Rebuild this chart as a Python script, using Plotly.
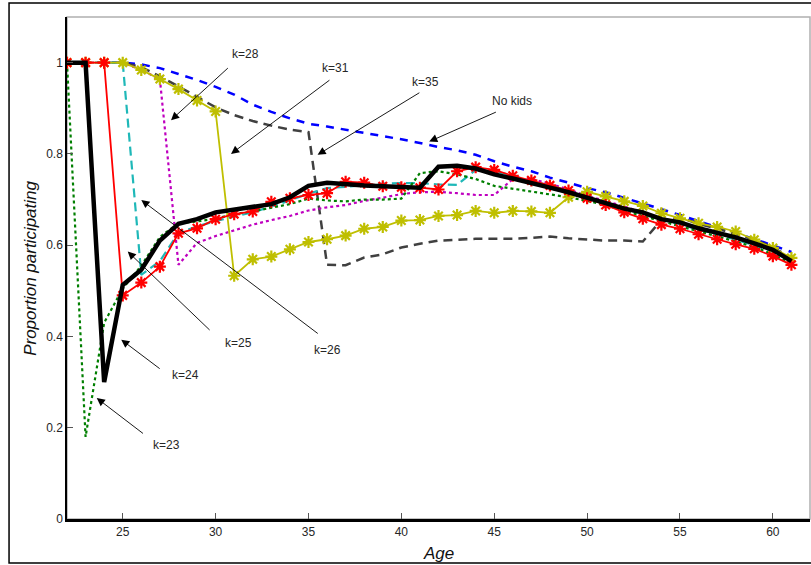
import plotly.graph_objects as go

ages = list(range(22, 62))

no_kids = [1.0, 1.0, 1.0, 1.0, 0.996, 0.988, 0.975, 0.962, 0.947, 0.930,
           0.908, 0.892, 0.878, 0.866, 0.860, 0.853, 0.847, 0.840, 0.832, 0.824,
           0.815, 0.808, 0.798, 0.784, 0.772, 0.762, 0.748, 0.737, 0.725, 0.716,
           0.704, 0.692, 0.679, 0.666, 0.653, 0.640, 0.627, 0.613, 0.600, 0.585]

k35 = [1.0, 1.0, 1.0, 1.0, 0.990, 0.970, 0.948, 0.925, 0.902, 0.885,
       0.872, 0.862, 0.853, 0.848, 0.557, 0.556, 0.573, 0.580, 0.595, 0.603,
       0.610, 0.612, 0.614, 0.614, 0.614, 0.616, 0.619, 0.615, 0.612, 0.610,
       0.610, 0.608, 0.655, 0.660, 0.647, 0.636, 0.625, 0.612, 0.595, 0.573]

k31 = [1.0, 1.0, 1.0, 1.0, 0.984, 0.964, 0.942, 0.917, 0.893, 0.533,
       0.569, 0.575, 0.591, 0.607, 0.613, 0.621, 0.636, 0.640, 0.654, 0.655,
       0.664, 0.666, 0.675, 0.671, 0.675, 0.674, 0.671, 0.705, 0.717, 0.707,
       0.696, 0.686, 0.670, 0.659, 0.648, 0.640, 0.630, 0.612, 0.594, 0.572]

k28 = [1.0, 1.0, 1.0, 1.0, 0.984, 0.964, 0.557, 0.605, 0.620, 0.633,
       0.645, 0.655, 0.664, 0.676, 0.683, 0.688, 0.697, 0.704, 0.712, 0.716,
       0.717, 0.714, 0.710, 0.710, 0.745, 0.745, 0.735, 0.722, 0.708, 0.697,
       0.684, 0.672, 0.660, 0.648, 0.637, 0.627, 0.615, 0.603, 0.588, 0.567]

k26 = [1.0, 1.0, 1.0, 1.0, 0.535, 0.565, 0.627, 0.641, 0.653, 0.662,
       0.672, 0.685, 0.698, 0.713, 0.725, 0.728, 0.732, 0.735, 0.736, 0.736,
       0.733, 0.732, 0.765, 0.762, 0.752, 0.740, 0.731, 0.720, 0.705, 0.694,
       0.680, 0.668, 0.656, 0.646, 0.634, 0.624, 0.612, 0.600, 0.585, 0.565]

k25 = [1.0, 1.0, 1.0, 0.490, 0.518, 0.553, 0.626, 0.637, 0.657, 0.668,
       0.674, 0.695, 0.703, 0.710, 0.714, 0.739, 0.737, 0.729, 0.727, 0.726,
       0.722, 0.762, 0.771, 0.765, 0.752, 0.742, 0.731, 0.720, 0.703, 0.688,
       0.672, 0.658, 0.645, 0.636, 0.624, 0.613, 0.602, 0.592, 0.576, 0.557]

k24 = [1.0, 1.0, 0.300, 0.513, 0.546, 0.610, 0.647, 0.657, 0.672, 0.678,
       0.682, 0.690, 0.705, 0.730, 0.737, 0.733, 0.731, 0.729, 0.728, 0.726,
       0.772, 0.774, 0.768, 0.755, 0.746, 0.735, 0.726, 0.716, 0.703, 0.692,
       0.680, 0.672, 0.657, 0.650, 0.637, 0.627, 0.617, 0.604, 0.590, 0.565]

k23 = [1.0, 0.180, 0.430, 0.505, 0.555, 0.618, 0.648, 0.652, 0.658, 0.668,
       0.674, 0.682, 0.690, 0.702, 0.698, 0.696, 0.700, 0.700, 0.702, 0.758,
       0.762, 0.755, 0.745, 0.730, 0.724, 0.717, 0.712, 0.705, 0.697, 0.688,
       0.675, 0.664, 0.652, 0.642, 0.630, 0.620, 0.608, 0.596, 0.580, 0.560]

x_ticks = [25, 30, 35, 40, 45, 50, 55, 60]
y_ticks = [0, 0.2, 0.4, 0.6, 0.8, 1]
y_tick_text = ["0", "0.2", "0.4", "0.6", "0.8", "1"]

# label text, arrow head (age, value), arrow tail (age, value), text position (age, value)
labels = ["k=28", "k=31", "k=35", "No kids", "k=25", "k=26", "k=24", "k=23"]
heads = [(27.6, 0.874), (30.83, 0.800), (35.49, 0.798), (41.5, 0.827),
         (25.27, 0.586), (26.0, 0.699), (24.92, 0.393), (23.6, 0.265)]
tails = [(30.74, 0.991), (36.21, 0.964), (41.05, 0.936), (45.17, 0.893),
         (29.76, 0.411), (35.58, 0.404), (27.07, 0.327), (26.17, 0.185)]
text_pos = [(31.6, 1.019), (36.44, 0.989), (41.28, 0.957), (45.95, 0.916),
            (31.23, 0.385), (36.0, 0.371), (28.37, 0.316), (27.37, 0.163)]

FONT = "Arial, Liberation Sans, Helvetica, sans-serif"

fig = go.Figure()

fig.add_trace(go.Scatter(x=ages, y=no_kids, mode="lines",
                         line=dict(color="#0000ff", width=2.5, dash="8px,7px"), name="No kids"))
fig.add_trace(go.Scatter(x=ages, y=k35, mode="lines",
                         line=dict(color="#404040", width=2.5, dash="9px,6px"), name="k=35"))
fig.add_trace(go.Scatter(x=ages, y=k28, mode="lines",
                         line=dict(color="#bf00bf", width=2.2, dash="dot"), name="k=28"))
fig.add_trace(go.Scatter(x=ages, y=k26, mode="lines",
                         line=dict(color="#1fb8b8", width=2.2, dash="9px,5px"), name="k=26"))
fig.add_trace(go.Scatter(x=ages, y=k23, mode="lines",
                         line=dict(color="#007f00", width=2.2, dash="dot"), name="k=23"))
fig.add_trace(go.Scatter(x=ages, y=k31, mode="lines+markers",
                         line=dict(color="#bfbf00", width=1.8),
                         marker=dict(color="#bfbf00", symbol="asterisk-open", size=10,
                                     line=dict(width=2.2, color="#bfbf00")),
                         name="k=31"))
fig.add_trace(go.Scatter(x=ages, y=k25, mode="lines+markers",
                         line=dict(color="#ff0000", width=1.8),
                         marker=dict(color="#ff0000", symbol="asterisk-open", size=10,
                                     line=dict(width=2.2, color="#ff0000")),
                         name="k=25"))
fig.add_trace(go.Scatter(x=ages, y=k24, mode="lines",
                         line=dict(color="#000000", width=4.5), name="k=24"))

annotations = []
for lab, h, t, p in zip(labels, heads, tails, text_pos):
    annotations.append(dict(x=h[0], y=h[1], ax=t[0], ay=t[1], xref="x", yref="y",
                            axref="x", ayref="y", text="", showarrow=True,
                            arrowhead=2, arrowsize=1.8, arrowwidth=0.9, arrowcolor="#000000"))
    annotations.append(dict(x=p[0], y=p[1], xref="x", yref="y", text=lab, showarrow=False,
                            font=dict(family=FONT, size=12, color="#262626")))

annotations.append(dict(x=0.5, y=-0.068, xref="paper", yref="paper", text="<i>Age</i>",
                        showarrow=False, yanchor="middle",
                        font=dict(family=FONT, size=17, color="#111111")))
annotations.append(dict(x=-0.05, y=0.5, xref="paper", yref="paper",
                        text="<i>Proportion participating</i>", textangle=-90,
                        showarrow=False, xanchor="center",
                        font=dict(family=FONT, size=17, color="#111111")))

shapes = [
    dict(type="rect", xref="paper", yref="paper", x0=0, x1=1, y0=0, y1=1,
         line=dict(color="#b0b0b0", width=1.5), layer="below"),
    dict(type="rect", xref="paper", yref="paper", x0=-0.078, x1=1.01, y0=-0.0876, y1=1.0279,
         line=dict(color="#000000", width=1.5), layer="below"),
]

fig.update_layout(
    width=811, height=565,
    margin=dict(l=67, r=1, t=17, b=46),
    paper_bgcolor="white", plot_bgcolor="white",
    showlegend=False,
    annotations=annotations,
    shapes=shapes,
    font=dict(family=FONT, size=12, color="#262626"),
)
fig.update_xaxes(range=[22, 62], tickvals=x_ticks, ticks="inside", ticklen=6,
                 tickcolor="#555555", showgrid=False, zeroline=False,
                 showline=True, linecolor="#000000", linewidth=2.5,
                 tickfont=dict(family=FONT, size=12, color="#262626"))
fig.update_yaxes(range=[0, 1.1], tickvals=y_ticks, ticktext=y_tick_text, ticks="inside",
                 ticklen=6, tickcolor="#555555", showgrid=False, zeroline=False,
                 showline=True, linecolor="#000000", linewidth=1.5,
                 tickfont=dict(family=FONT, size=12, color="#262626"))

fig.write_html("out.html")
